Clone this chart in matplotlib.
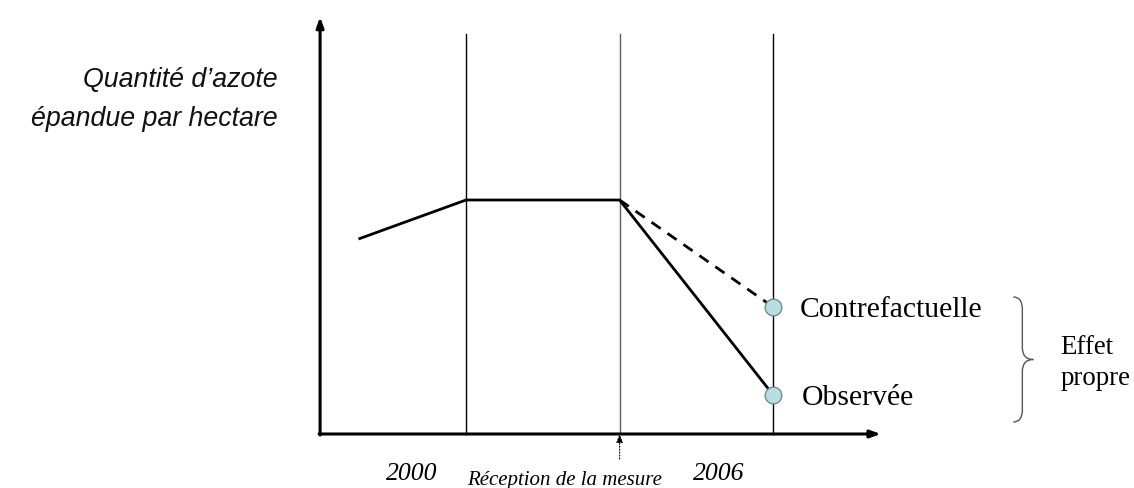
import matplotlib
matplotlib.use("Agg")
import matplotlib.pyplot as plt
from matplotlib.path import Path
from matplotlib.patches import PathPatch

# data (years on x, arbitrary quantity units on y)
years_obs = [1997.9, 2000, 2003, 2006]
qty_obs = [19.5, 23.4, 23.4, 3.9]
years_cf = [2003, 2006]
qty_cf = [23.4, 12.7]
vlines = [2000, 2003, 2006]
tick_labels = ["2000", "2006"]
tick_years = [2000, 2006]
point_labels = ["Contrefactuelle", "Observée"]
point_values = [12.7, 3.9]

# layout in data units
X_ORIGIN = 1997.15
X_END = 2008.1
Y_TOP = 41.7
VLINE_TOP = 40.0
SERIF = "Liberation Serif"
SANS = "Liberation Sans"

fig = plt.figure(figsize=(11.34, 4.89), dpi=100)
ax = fig.add_axes([0, 0, 1, 1])
ax.set_xlim(1990.898, 2013.047)
ax.set_ylim(-5.4, 43.5)
ax.axis("off")

# axes with arrows
ax.annotate("", xy=(X_ORIGIN, Y_TOP), xytext=(X_ORIGIN, -0.1),
            arrowprops=dict(arrowstyle="-|>,head_length=0.6,head_width=0.22",
                            lw=2.2, color="black", shrinkA=0, shrinkB=0))
ax.annotate("", xy=(X_END, 0), xytext=(X_ORIGIN - 0.02, 0),
            arrowprops=dict(arrowstyle="-|>,head_length=0.6,head_width=0.22",
                            lw=2.2, color="black", shrinkA=0, shrinkB=0))

# vertical reference lines
for yr in vlines:
    col = "#606060" if yr == 2003 else "black"
    ax.plot([yr, yr], [0, VLINE_TOP], color=col, lw=1.0, zorder=1)

# observed and counterfactual paths
ax.plot(years_obs, qty_obs, color="black", lw=2.0, solid_capstyle="butt", zorder=2)
ax.plot(years_cf, qty_cf, color="black", lw=2.0, ls=(0, (4, 3)), zorder=2)
ax.plot([2006, 2006], point_values, ls="none", marker="o", ms=12,
        mfc="#b5dfe2", mec="#7a8a8c", mew=1.0, zorder=3)

# point labels
for lab, val in zip(point_labels, point_values):
    ax.annotate(lab, xy=(2006, val), xytext=(27 if lab != "Observée" else 29, -9),
                textcoords="offset pixels", va="baseline", ha="left",
                family=SERIF, fontsize=21.3)

# brace between the two outcomes
bx = 2006 + 240 / 51.17
bm = bx + 9 / 51.17
bt = bx + 20 / 51.17
ytop = qty_cf[-1] + 1.0
ybot = qty_obs[-1] - 2.7
ymid = (ytop + ybot) / 2
verts = [(bx, ytop), (bm, ytop), (bm, ytop - 1.2), (bm, ytop - 1.2),
         (bm, ymid + 1.2), (bm, ymid + 1.2), (bm, ymid), (bt, ymid),
         (bm, ymid), (bm, ymid - 1.2), (bm, ymid - 1.2),
         (bm, ybot + 1.2), (bm, ybot + 1.2), (bm, ybot), (bx, ybot)]
codes = [Path.MOVETO, Path.CURVE3, Path.CURVE3, Path.LINETO,
         Path.LINETO, Path.LINETO, Path.CURVE3, Path.CURVE3,
         Path.CURVE3, Path.CURVE3, Path.LINETO,
         Path.LINETO, Path.LINETO, Path.CURVE3, Path.CURVE3]
ax.add_patch(PathPatch(Path(verts, codes), fill=False, ec="#555555", lw=1.0))

ax.text(bt + 27 / 51.17, ymid + 0.6, "Effet", family=SERIF, fontsize=19.4,
        ha="left", va="baseline")
ax.text(bt + 27 / 51.17, ymid - 2.5, "propre", family=SERIF, fontsize=19.4,
        ha="left", va="baseline")

# x labels
for lab, yr in zip(tick_labels, tick_years):
    ax.annotate(lab, xy=(yr, 0), xytext=(-54, -45), textcoords="offset pixels",
                ha="center", va="baseline", family=SERIF, style="italic",
                fontsize=18.5)

ax.annotate("", xy=(2003, 0), xytext=(2003, -2.5),
            arrowprops=dict(arrowstyle="-|>,head_length=0.5,head_width=0.2",
                            lw=0.8, ls=":", color="black", shrinkA=0, shrinkB=0))
ax.annotate("Réception de la mesure", xy=(2003, 0), xytext=(-55, -50),
            textcoords="offset pixels", ha="center", va="baseline",
            family=SERIF, style="italic", fontsize=15)

# y label
ax.text(1996.33, 34.8, "Quantité d’azote", family=SANS, style="italic",
        fontsize=19.3, ha="right", va="baseline", color="#111111")
ax.text(1996.33, 30.9, "épandue par hectare", family=SANS, style="italic",
        fontsize=19.3, ha="right", va="baseline", color="#111111")

plt.savefig("out.png", dpi=100)
plt.close()
